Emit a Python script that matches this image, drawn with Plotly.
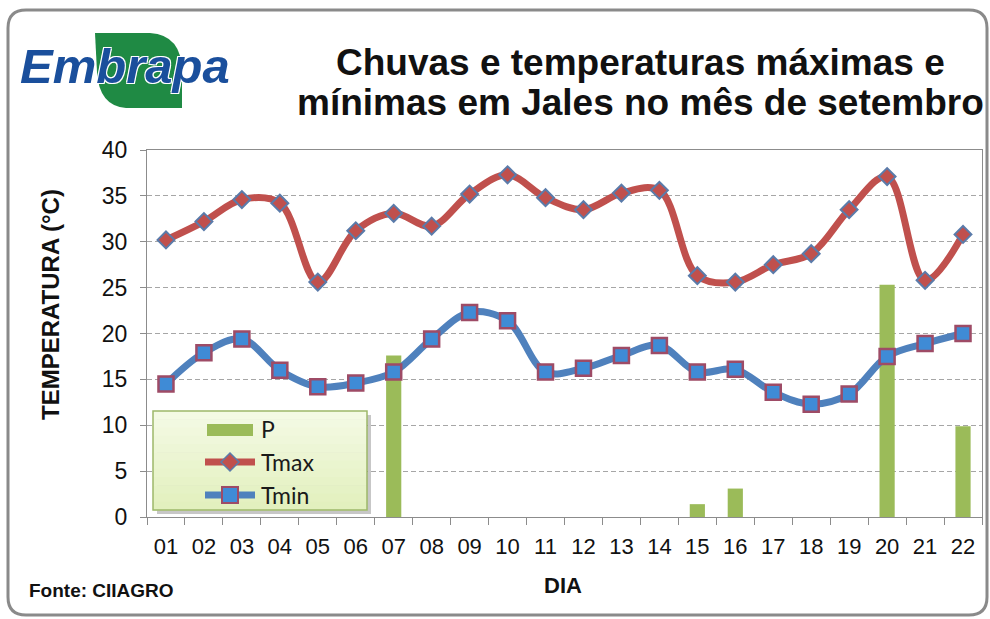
import plotly.graph_objects as go

# ---------------- data ----------------
dias = ["01", "02", "03", "04", "05", "06", "07", "08", "09", "10", "11",
        "12", "13", "14", "15", "16", "17", "18", "19", "20", "21", "22"]
chuva_p = [0, 0, 0, 0, 0, 0, 17.6, 0, 0, 0, 0,
           0, 0, 0, 1.4, 3.1, 0, 0, 0, 25.3, 0, 9.9]
tmax = [30.2, 32.2, 34.6, 34.2, 25.6, 31.2, 33.1, 31.7, 35.2, 37.3, 34.8,
        33.5, 35.3, 35.6, 26.3, 25.6, 27.5, 28.7, 33.5, 37.1, 25.8, 30.8]
tmin = [14.5, 17.9, 19.4, 16.0, 14.2, 14.6, 15.8, 19.4, 22.3, 21.4, 15.8,
        16.2, 17.6, 18.7, 15.8, 16.1, 13.6, 12.3, 13.4, 17.5, 18.9, 20.0]
y_ticks = [0, 5, 10, 15, 20, 25, 30, 35, 40]

title_l1 = "Chuvas e temperaturas máximas e"
title_l2 = "mínimas em Jales no mês de setembro"

# ---------------- geometry helpers ----------------
W_PX, H_PX = 990, 619
L, R, T, B = 147, 982, 150, 517
PW, PH = R - L, B - T


def px(x):
    return (x - L) / PW


def py(y):
    return (B - y) / PH


C_BAR = "#9BBB59"
C_RED = "#C0504D"
C_BLUE = "#4F81BD"
C_BLUE_M = "#3F8BD6"
C_RED_EDGE = "#9E4B66"
C_AXIS = "#8C8C8C"
FONT = "Liberation Sans, Arial, sans-serif"

fig = go.Figure()

fig.add_trace(go.Bar(
    x=dias, y=chuva_p, name="P", marker=dict(color=C_BAR, line=dict(width=0)),
    width=0.4,
))
fig.add_trace(go.Scatter(
    x=dias, y=tmax, name="Tmax", mode="lines+markers",
    line=dict(color=C_RED, width=7, shape="spline", smoothing=1.0),
    marker=dict(symbol="diamond", size=13, color=C_RED,
                line=dict(color="#5A7BAA", width=2)),
))
fig.add_trace(go.Scatter(
    x=dias, y=tmin, name="Tmin", mode="lines+markers",
    line=dict(color=C_BLUE, width=7, shape="spline", smoothing=1.0),
    marker=dict(symbol="square", size=15, color=C_BLUE_M,
                line=dict(color=C_RED_EDGE, width=2.5)),
))

shapes = []
annotations = []

# outer rounded frame
x0, y0, x1, y1, r = 8, 10, 987, 615, 18
frame = (f"M {px(x0+r)},{py(y0)} L {px(x1-r)},{py(y0)} "
         f"Q {px(x1)},{py(y0)} {px(x1)},{py(y0+r)} L {px(x1)},{py(y1-r)} "
         f"Q {px(x1)},{py(y1)} {px(x1-r)},{py(y1)} L {px(x0+r)},{py(y1)} "
         f"Q {px(x0)},{py(y1)} {px(x0)},{py(y1-r)} L {px(x0)},{py(y0+r)} "
         f"Q {px(x0)},{py(y0)} {px(x0+r)},{py(y0)} Z")
shapes.append(dict(type="path", xref="paper", yref="paper", path=frame,
                   line=dict(color="#8A8A8A", width=3), layer="below"))

# Embrapa leaf
leaf_pts = (f"M {px(95)},{py(33)} L {px(150)},{py(33)} "
            f"Q {px(182)},{py(35)} {px(182)},{py(72)} L {px(182)},{py(108)} "
            f"L {px(126)},{py(108)} Q {px(99)},{py(106)} {px(97)},{py(72)} Z")
shapes.append(dict(type="path", xref="paper", yref="paper", path=leaf_pts,
                   fillcolor="#1F8A44", line=dict(width=0), layer="below"))

annotations.append(dict(
    xref="paper", yref="paper", x=px(18), y=py(66), xanchor="left", yanchor="middle",
    text="<b><i>Embrapa</i></b>", showarrow=False,
    font=dict(family=FONT, size=49, color="#1A4F9C",
              shadow="1px 1px 0px white, -1px -1px 0px white, 1px -1px 0px white, -1px 1px 0px white"),
))

# title
annotations.append(dict(xref="paper", yref="paper", x=px(640), y=py(62),
                        xanchor="center", yanchor="middle", showarrow=False,
                        text="<b>" + title_l1 + "</b>",
                        font=dict(family=FONT, size=37, color="#111111")))
annotations.append(dict(xref="paper", yref="paper", x=px(640), y=py(102),
                        xanchor="center", yanchor="middle", showarrow=False,
                        text="<b>" + title_l2 + "</b>",
                        font=dict(family=FONT, size=37, color="#111111")))

# axis titles / source
annotations.append(dict(xref="paper", yref="paper", x=px(50), y=py(305),
                        xanchor="center", yanchor="middle", showarrow=False,
                        textangle=-90, text="<b>TEMPERATURA (°C)</b>",
                        font=dict(family=FONT, size=24, color="#111111")))
annotations.append(dict(xref="paper", yref="paper", x=px(563), y=py(585),
                        xanchor="center", yanchor="middle", showarrow=False,
                        text="<b>DIA</b>",
                        font=dict(family=FONT, size=22, color="#111111")))
annotations.append(dict(xref="paper", yref="paper", x=px(27), y=py(590),
                        xanchor="left", yanchor="middle", showarrow=False,
                        text="<b>Fonte: CIIAGRO</b>",
                        font=dict(family=FONT, size=19, color="#111111")))

# ---------------- manual legend ----------------
lx0, ly0, lx1, ly1 = 153, 411, 367, 510
shapes.append(dict(type="rect", xref="paper", yref="paper",
                   x0=px(lx0+4), x1=px(lx1+4), y0=py(ly0+4), y1=py(ly1+4),
                   fillcolor="rgba(0,0,0,0.22)", line=dict(width=0), layer="above"))
n_band = 12
top_c = (244, 250, 228)
bot_c = (226, 240, 190)
for i in range(n_band):
    f = i / (n_band - 1)
    c = tuple(round(top_c[k] + (bot_c[k] - top_c[k]) * f) for k in range(3))
    ya = ly0 + (ly1 - ly0) * i / n_band
    yb = ly0 + (ly1 - ly0) * (i + 1) / n_band
    shapes.append(dict(type="rect", xref="paper", yref="paper",
                       x0=px(lx0), x1=px(lx1), y0=py(ya), y1=py(yb + 0.5),
                       fillcolor=f"rgb{c}", line=dict(width=0), layer="above"))
shapes.append(dict(type="rect", xref="paper", yref="paper",
                   x0=px(lx0), x1=px(lx1), y0=py(ly0), y1=py(ly1),
                   fillcolor="rgba(0,0,0,0)", line=dict(color="#9DB86A", width=1.5),
                   layer="above"))

# P symbol
shapes.append(dict(type="rect", xref="paper", yref="paper",
                   x0=px(207), x1=px(253), y0=py(424), y1=py(436),
                   fillcolor=C_BAR, line=dict(width=0), layer="above"))
# Tmax symbol
shapes.append(dict(type="line", xref="paper", yref="paper",
                   x0=px(205), x1=px(255), y0=py(462), y1=py(462),
                   line=dict(color=C_RED, width=7), layer="above"))
d = 9
shapes.append(dict(type="path", xref="paper", yref="paper",
                   path=(f"M {px(230)},{py(462-d)} L {px(230+d)},{py(462)} "
                         f"L {px(230)},{py(462+d)} L {px(230-d)},{py(462)} Z"),
                   fillcolor=C_RED, line=dict(color="#5A7BAA", width=1.5), layer="above"))
# Tmin symbol
shapes.append(dict(type="line", xref="paper", yref="paper",
                   x0=px(205), x1=px(255), y0=py(495), y1=py(495),
                   line=dict(color=C_BLUE, width=7), layer="above"))
s = 8
shapes.append(dict(type="rect", xref="paper", yref="paper",
                   x0=px(230-s), x1=px(230+s), y0=py(495-s), y1=py(495+s),
                   fillcolor=C_BLUE_M, line=dict(color=C_RED_EDGE, width=2), layer="above"))

for lab, yy in [("P", 429), ("Tmax", 462), ("Tmin", 495)]:
    annotations.append(dict(xref="paper", yref="paper", x=px(259), y=py(yy),
                            xanchor="left", yanchor="middle", showarrow=False,
                            text=lab, font=dict(family="Lato, sans-serif", size=23,
                                                color="#1A1A1A")))

fig.update_layout(
    width=W_PX, height=H_PX,
    margin=dict(l=L, r=W_PX - R, t=T, b=H_PX - B, pad=0),
    paper_bgcolor="white", plot_bgcolor="white",
    showlegend=False,
    barmode="overlay",
    shapes=shapes, annotations=annotations,
    xaxis=dict(
        type="category", categoryorder="array", categoryarray=dias,
        showline=True, linecolor=C_AXIS, linewidth=1, mirror=True,
        ticks="outside", tickson="boundaries", ticklen=7, tickcolor=C_AXIS,
        showgrid=False, tickfont=dict(family=FONT, size=22, color="#111111"),
        ticklabelstandoff=10,
        range=[-0.5, 21.5],
    ),
    yaxis=dict(
        range=[0, 40], tickvals=y_ticks,
        showline=True, linecolor=C_AXIS, linewidth=1, mirror=True,
        ticks="outside", ticklen=6, tickcolor=C_AXIS,
        showgrid=True, gridcolor="#A6A6A6", gridwidth=1, griddash="5px,3px",
        zeroline=False, ticklabelstandoff=8,
        tickfont=dict(family=FONT, size=23, color="#111111"),
    ),
)

fig.write_html(
    "out.html",
    config={"displayModeBar": False},
    post_script="document.body.style.margin='0';document.body.style.overflow='hidden';",
)
